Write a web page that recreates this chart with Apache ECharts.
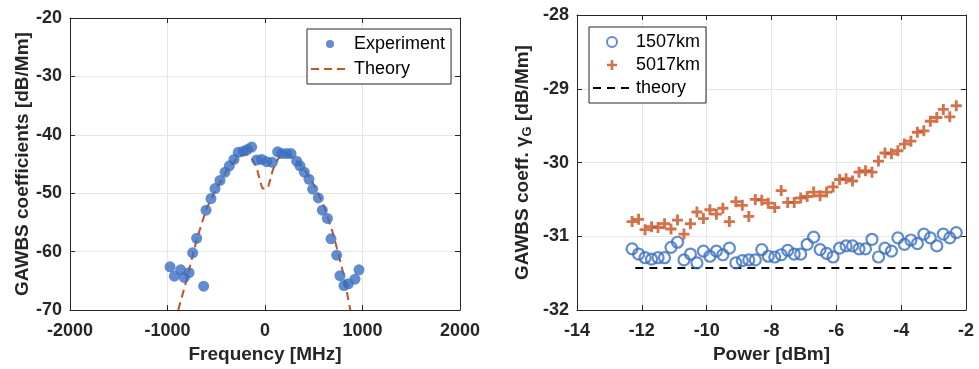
<!DOCTYPE html>
<html>
<head>
<meta charset="utf-8">
<script src="https://cdn.jsdelivr.net/npm/echarts@6/dist/echarts.min.js"></script>
<style>
  html, body { margin: 0; padding: 0; background: #fff; }
  #chart { width: 979px; height: 369px; }
</style>
</head>
<body>
<div id="chart"></div>
<script>
// Left panel: GAWBS spectrum vs frequency
const expFreq = [-974, -930, -865, -828, -779, -742, -701, -629, -605, -554, -513, -462, -410, -366, -318, -274, -222, -181, -137,
  -85, -34, 17, 75, 130, 171, 222, 267, 325, 359, 403, 451, 489, 547, 588, 640, 677, 735, 769, 810, 855, 923, 964];
const expCoef = [-62.6, -64.2, -63.1, -64.4, -63.6, -60.2, -57.7, -65.9, -52.9, -50.9, -49.2, -47.8, -46.4, -45.3, -44.2, -43.0, -42.8, -42.5, -42.1,
  -44.3, -44.2, -44.6, -44.7, -42.9, -43.2, -43.2, -43.2, -44.5, -45.3, -46.4, -47.6, -49.3, -50.8, -52.9, -54.3, -57.8, -60.6, -64.1, -65.8, -65.5, -64.7, -63.1];
const theoryFreq = [-890, -820, -800, -700, -600, -500, -400, -300, -250, -200, -160, -120, -80, -40, -25,
  25, 40, 80, 120, 160, 200, 250, 300, 400, 500, 600, 700, 800, 875];
const theoryCoef = [-70, -65.8, -64.5, -57.9, -52.6, -49.3, -46.3, -44.3, -43.6, -43.3, -43.5, -44.5, -46, -48.5, -49.2,
  -49.2, -48.5, -46, -44.5, -43.5, -43.3, -43.4, -44.0, -45.8, -48.5, -52, -57, -63.5, -70];
const freqTicks = [-2000, -1000, 0, 1000, 2000];
const coefTicks = [-70, -60, -50, -40, -30, -20];

// Right panel: GAWBS coefficient vs launch power
const powerDbm = [-12.3, -12.1, -11.9, -11.7, -11.5, -11.3, -11.1, -10.9, -10.7, -10.5, -10.3, -10.1, -9.9, -9.7, -9.5, -9.3, -9.1,
  -8.9, -8.7, -8.5, -8.3, -8.1, -7.9, -7.7, -7.5, -7.3, -7.1, -6.9, -6.7, -6.5, -6.3, -6.1, -5.9, -5.7, -5.5, -5.3, -5.1,
  -4.9, -4.7, -4.5, -4.3, -4.1, -3.9, -3.7, -3.5, -3.3, -3.1, -2.9, -2.7, -2.5, -2.3];
const coef1507 = [-31.17, -31.24, -31.29, -31.31, -31.29, -31.29, -31.15, -31.08, -31.32, -31.24, -31.36, -31.20, -31.27, -31.20, -31.25, -31.16, -31.36,
  -31.33, -31.32, -31.32, -31.18, -31.27, -31.28, -31.25, -31.19, -31.24, -31.24, -31.11, -31.01, -31.18, -31.23, -31.28, -31.16, -31.13, -31.13, -31.17, -31.17,
  -31.04, -31.28, -31.16, -31.20, -31.02, -31.11, -31.05, -31.10, -30.97, -31.02, -31.13, -30.97, -31.02, -30.95];
const coef5017 = [-30.80, -30.77, -30.91, -30.87, -30.88, -30.83, -30.90, -30.78, -30.97, -30.83, -30.67, -30.76, -30.64, -30.70, -30.62, -30.80, -30.53,
  -30.58, -30.73, -30.50, -30.51, -30.55, -30.61, -30.38, -30.54, -30.54, -30.48, -30.46, -30.40, -30.45, -30.40, -30.33, -30.23, -30.22, -30.25, -30.13, -30.11,
  -30.13, -29.98, -29.87, -29.88, -29.84, -29.75, -29.71, -29.59, -29.57, -29.44, -29.39, -29.28, -29.38, -29.23];
const theoryPower = [-12.2, -2.3];
const theoryLevel = [-31.43, -31.43];
const powerTicks = [-14, -12, -10, -8, -6, -4, -2];
const gammaTicks = [-32, -31, -30, -29, -28];

const BLUE = "#3B6FC1";
const ORANGE = "#C9501E";
const AXIS = "#262626";
const GRID = "#e6e6e6";
const FONT = "'Liberation Sans', Arial, Helvetica, sans-serif";
const PLUS = "path://M3.7,0H6.3V3.7H10V6.3H6.3V10H3.7V6.3H0V3.7H3.7Z";

const zip = (xs, ys) => xs.map((x, i) => [x, ys[i]]);

// helper for a MATLAB-like boxed axis pair
function boxAxes(gridIndex, ticks, isX, name, nameGap, nameStyle) {
  const min = ticks[0];
  const max = ticks[ticks.length - 1];
  const interval = ticks[1] - ticks[0];
  const main = {
    type: "value",
    gridIndex,
    min, max, interval,
    position: isX ? "bottom" : "left",
    name,
    nameLocation: "middle",
    nameGap,
    nameTextStyle: Object.assign({
      color: AXIS, fontFamily: FONT, fontWeight: "bold", fontSize: 19,
    }, nameStyle || {}),
    axisLine: { show: true, onZero: false, lineStyle: { color: AXIS, width: 1 } },
    axisTick: { show: true, inside: true, length: 5, lineStyle: { color: AXIS } },
    axisLabel: {
      color: AXIS, fontFamily: FONT, fontWeight: "bold", fontSize: 18,
      margin: isX ? 12 : 8,
      showMinLabel: true, showMaxLabel: true,
      formatter: (v) => String(v),
    },
    splitLine: { show: true, lineStyle: { color: GRID, width: 1 } },
  };
  const mirror = {
    type: "value",
    gridIndex,
    min, max, interval,
    position: isX ? "top" : "right",
    axisLine: { show: true, onZero: false, lineStyle: { color: AXIS, width: 1 } },
    axisTick: { show: true, inside: true, length: 5, lineStyle: { color: AXIS } },
    axisLabel: { show: false },
    splitLine: { show: false },
  };
  return [main, mirror];
}

const chart = echarts.init(document.getElementById("chart"), null, { renderer: "canvas" });

const [x0, x0t] = boxAxes(0, freqTicks, true, "Frequency [MHz]", 34);
const [y0, y0r] = boxAxes(0, coefTicks, false, "GAWBS coefficients [dB/Mm]", 36);
const [x1, x1t] = boxAxes(1, powerTicks, true, "Power [dBm]", 34);
const [y1, y1r] = boxAxes(1, gammaTicks, false,
  "{a|GAWBS coeff. }{g|γ}{s|G}{a| [dB/Mm]}", 43, {
    rich: {
      a: { fontFamily: FONT, fontWeight: "bold", fontSize: 19, color: AXIS, lineHeight: 22 },
      g: { fontFamily: FONT, fontWeight: "bold", fontSize: 19, color: AXIS, lineHeight: 22 },
      s: { fontFamily: FONT, fontWeight: "bold", fontSize: 13, color: AXIS, lineHeight: 10, verticalAlign: "bottom" },
    },
  });

const legendText = { fontFamily: FONT, fontSize: 18, color: "#000" };
const hideSymbol = { opacity: 0 };

const option = {
  animation: false,
  backgroundColor: "#fff",
  grid: [
    { left: 70, top: 18, width: 390, height: 297 },
    { left: 577, top: 15, width: 389, height: 300 },
  ],
  xAxis: [x0, x0t, x1, x1t],
  yAxis: [y0, y0r, y1, y1r],
  legend: [
    {
      orient: "vertical",
      left: 307, top: 29,
      padding: [6, 6, 6, 3],
      itemGap: 7,
      itemWidth: 38, itemHeight: 8,
      backgroundColor: "#fff",
      borderColor: AXIS, borderWidth: 1, borderRadius: 0,
      textStyle: legendText,
      data: ["Experiment", { name: "Theory", itemStyle: hideSymbol }],
    },
    {
      orient: "vertical",
      left: 589, top: 27,
      padding: [6, 6, 6, 3],
      itemGap: 5,
      itemWidth: 38, itemHeight: 10,
      backgroundColor: "#fff",
      borderColor: AXIS, borderWidth: 1, borderRadius: 0,
      textStyle: legendText,
      data: ["1507km", "5017km", { name: "theory", itemStyle: hideSymbol }],
    },
  ],
  series: [
    {
      name: "Theory",
      type: "line",
      xAxisIndex: 0, yAxisIndex: 0,
      data: zip(theoryFreq, theoryCoef),
      showSymbol: false, symbol: "none",
      lineStyle: { color: ORANGE, width: 2, type: [8, 5] },
      itemStyle: { color: ORANGE },
      z: 2,
    },
    {
      name: "Experiment",
      type: "scatter",
      xAxisIndex: 0, yAxisIndex: 0,
      data: zip(expFreq, expCoef),
      symbol: "circle", symbolSize: 11,
      itemStyle: { color: BLUE },
      z: 3,
    },
    {
      name: "1507km",
      type: "scatter",
      xAxisIndex: 2, yAxisIndex: 2,
      data: zip(powerDbm, coef1507),
      symbol: "circle", symbolSize: 11,
      itemStyle: { color: "rgba(255,255,255,0)", borderColor: BLUE, borderWidth: 2.2 },
      z: 3,
    },
    {
      name: "5017km",
      type: "scatter",
      xAxisIndex: 2, yAxisIndex: 2,
      data: zip(powerDbm, coef5017),
      symbol: PLUS, symbolSize: 11,
      itemStyle: { color: ORANGE },
      z: 3,
    },
    {
      name: "theory",
      type: "line",
      xAxisIndex: 2, yAxisIndex: 2,
      data: zip(theoryPower, theoryLevel),
      showSymbol: false, symbol: "none",
      lineStyle: { color: "#000", width: 2, type: [8, 6] },
      itemStyle: { color: "#000" },
      z: 2,
    },
  ],
};

chart.setOption(option);
</script>
</body>
</html>
